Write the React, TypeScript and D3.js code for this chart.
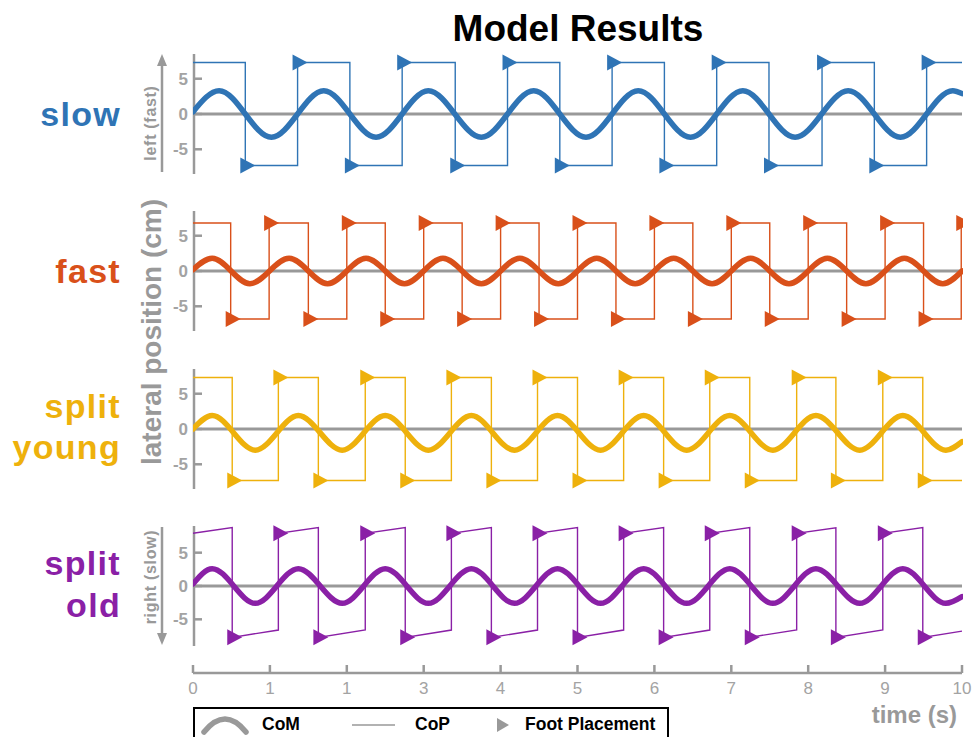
import React from "react";
import * as d3 from "d3";

const WIDTH = 977;
const HEIGHT = 737;

// ---------- axis data ----------
const timeTicks = [0, 1, 2, 3, 4, 5, 6, 7, 8, 9, 10];
const timeTickLabels = ["0", "1", "1", "3", "4", "5", "6", "7", "8", "9", "10"];
const yTicks = [-5, 0, 5];

// ---------- slow ----------
const slowSwitchTimes = [0.68, 1.36, 2.04, 2.72, 3.41, 4.09, 4.77, 5.45, 6.13, 6.81, 7.49, 8.18, 8.86, 9.54];
const slowCoPLeft = [7.3, 7.3];
const slowCoPRight = [-7.3, -7.3];
const slowCoMTimes = [0, 0.34, 1.02, 1.7, 2.38, 3.06, 3.75, 4.43, 5.11, 5.79, 6.47, 7.15, 7.83, 8.52, 9.2, 9.88, 10];
const slowCoMValues = [0.3, 3.3, -3.3, 3.3, -3.3, 3.3, -3.3, 3.3, -3.3, 3.3, -3.3, 3.3, -3.3, 3.3, -3.3, 3.3, 2.9];

// ---------- fast ----------
const fastSwitchTimes = [0.49, 0.99, 1.5, 2.0, 2.5, 3.0, 3.5, 4.0, 4.5, 5.0, 5.5, 6.0, 6.5, 7.0, 7.5, 8.0, 8.5, 9.0, 9.5, 9.99];
const fastCoPLeft = [6.8, 6.8];
const fastCoPRight = [-6.8, -6.8];
const fastCoMTimes = [0, 0.25, 0.74, 1.25, 1.75, 2.25, 2.75, 3.25, 3.75, 4.25, 4.75, 5.25, 5.75, 6.25, 6.75, 7.25, 7.75, 8.25, 8.75, 9.25, 9.75, 10];
const fastCoMValues = [0.2, 1.8, -1.8, 1.8, -1.8, 1.8, -1.8, 1.8, -1.8, 1.8, -1.8, 1.8, -1.8, 1.8, -1.8, 1.8, -1.8, 1.8, -1.8, 1.8, -1.8, 0.0];

// ---------- split young ----------
const youngSwitchTimes = [0.51, 1.11, 1.63, 2.24, 2.76, 3.36, 3.88, 4.48, 5.0, 5.6, 6.12, 6.72, 7.24, 7.85, 8.36, 8.97, 9.49];
const youngCoPLeft = [7.3, 7.3];
const youngCoPRight = [-7.3, -7.3];
const youngCoMTimes = [0, 0.25, 0.81, 1.37, 1.94, 2.5, 3.06, 3.62, 4.18, 4.74, 5.3, 5.86, 6.42, 6.98, 7.54, 8.1, 8.67, 9.23, 9.79, 10];
const youngCoMValues = [0.0, 1.9, -3.0, 1.9, -3.0, 1.9, -3.0, 1.9, -3.0, 1.9, -3.0, 1.9, -3.0, 1.9, -3.0, 1.9, -3.0, 1.9, -3.0, -1.8];

// ---------- split old ----------
const oldSwitchTimes = [0.51, 1.11, 1.63, 2.24, 2.76, 3.36, 3.88, 4.48, 5.0, 5.6, 6.12, 6.72, 7.24, 7.85, 8.36, 8.97, 9.49];
const oldCoPLeft = [7.9, 8.75];
const oldCoPRight = [-7.7, -6.6];
const oldCoMTimes = [0, 0.25, 0.81, 1.37, 1.94, 2.5, 3.06, 3.62, 4.18, 4.74, 5.3, 5.86, 6.42, 6.98, 7.54, 8.1, 8.67, 9.23, 9.79, 10];
const oldCoMValues = [0.3, 2.6, -2.6, 2.6, -2.6, 2.6, -2.6, 2.6, -2.6, 2.6, -2.6, 2.6, -2.6, 2.6, -2.6, 2.6, -2.6, 2.6, -2.6, -1.6];

// ---------- layout ----------
const X0 = 193;
const X1 = 962;
const AXIS_GRAY = "#999999";
const TICK_GRAY = "#a3a3a3";

const panels = [
  { lines: ["slow"], color: "#2F74B5", zero: 114, dom: 8.5, sw: slowSwitchTimes, left: slowCoPLeft, right: slowCoPRight, comT: slowCoMTimes, comV: slowCoMValues, labelY: [126] },
  { lines: ["fast"], color: "#D9501A", zero: 271, dom: 8.5, sw: fastSwitchTimes, left: fastCoPLeft, right: fastCoPRight, comT: fastCoMTimes, comV: fastCoMValues, labelY: [283] },
  { lines: ["split", "young"], color: "#EEB10C", zero: 429, dom: 8.5, sw: youngSwitchTimes, left: youngCoPLeft, right: youngCoPRight, comT: youngCoMTimes, comV: youngCoMValues, labelY: [418, 459] },
  { lines: ["split", "old"], color: "#8A20A6", zero: 586, dom: 9, sw: oldSwitchTimes, left: oldCoPLeft, right: oldCoPRight, comT: oldCoMTimes, comV: oldCoMValues, labelY: [575, 617] },
];

const x = d3.scaleLinear().domain([0, 10]).range([X0, X1]);

function copPoints(sw: number[], left: number[], right: number[]): [number, number][] {
  const bounds = [0, ...sw, 10];
  const durs: number[][] = [[], []];
  for (let i = 1; i < bounds.length - 2; i++) durs[i % 2].push(bounds[i + 1] - bounds[i]);
  const nominal = [d3.mean(durs[0]) || 1, d3.mean(durs[1]) || 1];
  const pts: [number, number][] = [];
  for (let i = 0; i < bounds.length - 1; i++) {
    const side = i % 2;
    const lv = side === 0 ? left : right;
    const t0 = bounds[i];
    const t1 = bounds[i + 1];
    const s0 = i === 0 ? t1 - nominal[side] : t0;
    const val = (t: number) => lv[0] + ((lv[1] - lv[0]) * (t - s0)) / nominal[side];
    pts.push([t0, val(t0)], [t1, val(t1)]);
  }
  return pts;
}

const triPath = "M-5,-8L-5,8L10,0Z";

export default function App() {
  return (
    <svg
      width={WIDTH}
      height={HEIGHT}
      style={{ position: "absolute", left: 0, top: 0, background: "#fff" }}
      fontFamily="'Liberation Sans', Arial, Helvetica, sans-serif"
    >
      <defs>
        <clipPath id="plotClip">
          <rect x={X0} y={0} width={X1 - X0 + 1} height={HEIGHT} />
        </clipPath>
      </defs>
      <rect x={0} y={0} width={WIDTH} height={HEIGHT} fill="#fff" />

      {/* Title */}
      <text x={578} y={41} textAnchor="middle" fontSize={37} fontWeight="bold" fill="#000">
        Model Results
      </text>

      {panels.map((p, pi) => {
        const y = d3.scaleLinear().domain([-p.dom, p.dom]).range([p.zero + 60, p.zero - 60]);
        const cop = copPoints(p.sw, p.left, p.right);
        const copLine = d3.line<[number, number]>().x((d) => x(d[0])).y((d) => y(d[1]));
        const comData = p.comT.map((t, i) => [t, p.comV[i]] as [number, number]);
        const comLine = d3
          .line<[number, number]>()
          .x((d) => x(d[0]))
          .y((d) => y(d[1]))
          .curve(d3.curveMonotoneX);
        const markers = p.sw.map((t, i) => cop[2 * (i + 1)]);
        return (
          <g key={pi}>
            {/* panel label */}
            {p.lines.map((ln, li) => (
              <text key={li} x={121} y={p.labelY[li]} textAnchor="end" fontSize={34} fontWeight="bold" letterSpacing={1.3} fill={p.color}>
                {ln}
              </text>
            ))}
            {/* y axis */}
            <line x1={194} x2={194} y1={y(p.dom)} y2={y(-p.dom)} stroke={AXIS_GRAY} strokeWidth={2.5} />
            {yTicks.map((v) => (
              <g key={v}>
                <line x1={194} x2={202} y1={y(v)} y2={y(v)} stroke={AXIS_GRAY} strokeWidth={2.5} />
                <text x={188} y={y(v)} dy="0.36em" textAnchor="end" fontSize={17} fontWeight="bold" fill={TICK_GRAY}>
                  {v === 0 ? "0" : v < 0 ? "-5" : "5"}
                </text>
              </g>
            ))}
            {/* zero line */}
            <line x1={X0} x2={X1} y1={y(0)} y2={y(0)} stroke={AXIS_GRAY} strokeWidth={3} />
            <g clipPath="url(#plotClip)">
              <path d={copLine(cop) || ""} fill="none" stroke={p.color} strokeWidth={1.4} />
              <path d={comLine(comData) || ""} fill="none" stroke={p.color} strokeWidth={5.5} strokeLinecap="round" />
              {markers.map((m, mi) => (
                <path key={mi} d={triPath} transform={`translate(${x(m[0])},${y(m[1])})`} fill={p.color} />
              ))}
            </g>
          </g>
        );
      })}

      {/* side annotations */}
      <text transform="translate(150,123) rotate(-90)" textAnchor="middle" dominantBaseline="central" fontSize={16} fontWeight="bold" letterSpacing={0.7} fill={AXIS_GRAY}>
        left (fast)
      </text>
      <line x1={162} x2={162} y1={172} y2={64} stroke={AXIS_GRAY} strokeWidth={2.5} />
      <path d="M162,54L167,66L157,66Z" fill={AXIS_GRAY} />

      <text transform="translate(150,577) rotate(-90)" textAnchor="middle" dominantBaseline="central" fontSize={16} fontWeight="bold" letterSpacing={0.7} fill={AXIS_GRAY}>
        right (slow)
      </text>
      <line x1={162} x2={162} y1={527} y2={634} stroke={AXIS_GRAY} strokeWidth={2.5} />
      <path d="M162,645L167,633L157,633Z" fill={AXIS_GRAY} />

      <text transform="translate(151,332) rotate(-90)" textAnchor="middle" dominantBaseline="central" fontSize={28} fontWeight="bold" fill={AXIS_GRAY}>
        lateral position (cm)
      </text>

      {/* x axis */}
      <line x1={X0} x2={X1} y1={673} y2={673} stroke={AXIS_GRAY} strokeWidth={2.5} />
      {timeTicks.map((t, i) => (
        <g key={t}>
          <line x1={x(t)} x2={x(t)} y1={673} y2={665} stroke={AXIS_GRAY} strokeWidth={2.5} />
          <text x={x(t)} y={694} textAnchor="middle" fontSize={17} fill={TICK_GRAY}>
            {timeTickLabels[i]}
          </text>
        </g>
      ))}
      <text x={957} y={723} textAnchor="end" fontSize={24} fontWeight="bold" fill={AXIS_GRAY}>
        time (s)
      </text>

      {/* legend */}
      <rect x={194} y={708} width={474} height={40} fill="#fff" stroke="#000" strokeWidth={2} />
      <path d="M204,732Q225,706 246,732" fill="none" stroke={AXIS_GRAY} strokeWidth={5.5} strokeLinecap="round" />
      <text x={262} y={730} fontSize={17.5} fontWeight="bold" fill="#000">
        CoM
      </text>
      <line x1={352} x2={395} y1={725} y2={725} stroke={AXIS_GRAY} strokeWidth={1.4} />
      <text x={415} y={730} fontSize={17.5} fontWeight="bold" fill="#000">
        CoP
      </text>
      <path d="M497,718L497,732L509,725Z" fill={AXIS_GRAY} />
      <text x={525} y={730} fontSize={17.5} fontWeight="bold" fill="#000">
        Foot Placement
      </text>
    </svg>
  );
}
